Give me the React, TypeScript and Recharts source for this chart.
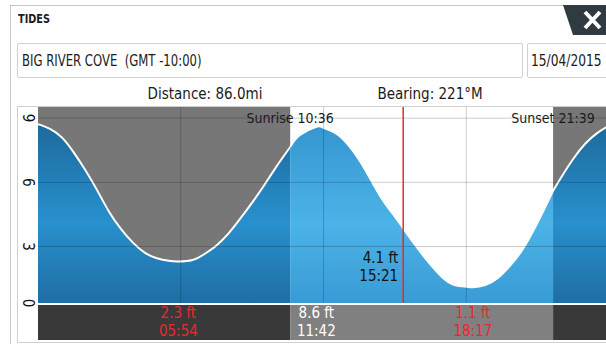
import {
  Area,
  ComposedChart,
  ReferenceArea,
  ReferenceDot,
  ReferenceLine,
  XAxis,
  YAxis,
} from 'recharts'

// tide height (ft), hour of day
const HOURS = [
  0, 0.5, 1, 1.5, 2, 2.5, 3, 3.5, 4, 4.5, 5, 5.5, 5.9, 6.5, 7, 7.5, 8, 8.5, 9, 9.5, 10, 10.6, 11, 11.7,
  12, 12.5, 13, 13.5, 14, 14.5, 15, 15.35, 16, 16.5, 17, 17.5, 18, 18.28, 18.8, 19.3, 19.8, 20.3, 20.8,
  21.3, 21.65, 22, 22.5, 23, 23.5, 24,
]
const HEIGHTS = [
  8.72, 8.5, 8.1, 7.4, 6.55, 5.6, 4.6, 3.8, 3.17, 2.7, 2.45, 2.33, 2.3, 2.37, 2.65, 3.05, 3.6, 4.3, 5.05, 5.85, 6.7, 7.65, 8.2, 8.6,
  8.55, 8.3, 7.8, 7.05, 6.1, 5.15, 4.4, 3.85, 2.85, 2.15, 1.55, 1.2, 1.12, 1.1, 1.2, 1.5, 2.05, 2.75, 3.7,
  4.8, 5.6, 6.25, 7.1, 7.8, 8.3, 8.65,
]

const SUNRISE = 10.6
const SUNSET = 21.65
const SUN_LABELS = ['Sunrise 10:36', 'Sunset 21:39']

const EXTREME_HOURS = [5.9, 11.7, 18.28]
const EXTREME_HEIGHTS = ['2.3 ft', '8.6 ft', '1.1 ft']
const EXTREME_TIMES = ['05:54', '11:42', '18:17']
const EXTREME_LOW = [true, false, true]

const NOW_HOUR = 15.35
const NOW_HEIGHT = 4.1
const NOW_LABEL = ['4.1 ft', '15:21']

const Y_TICKS = [0.36, 3, 6, 9]
const Y_MIN = -1.37
const Y_BASE = 0.36
const Y_MAX = 9.52

const FONT = '"Liberation Sans Narrow", "DejaVu Sans Condensed", "DejaVu Sans", sans-serif'
const RED = '#e52a2f'

const rows = HOURS.map((t, i) => ({
  t,
  night: t <= SUNRISE || t >= SUNSET ? HEIGHTS[i] : null,
  day: t >= SUNRISE && t <= SUNSET ? HEIGHTS[i] : null,
}))

const grid = 'rgba(0,0,0,0.2)'

function YTick({ y, payload }: any) {
  return (
    <text
      transform={`translate(10,${y}) rotate(90)`}
      textAnchor="middle"
      dominantBaseline="central"
      fontSize={15}
      fontFamily={FONT}
      fill="#111"
    >
      {Math.round(payload.value)}
    </text>
  )
}

const narrow = (scale: number): React.CSSProperties => ({
  display: 'inline-block',
  transform: `scaleX(${scale})`,
  transformOrigin: 'left center',
  whiteSpace: 'nowrap',
})

export default function App() {
  return (
    <div
      style={{
        position: 'fixed',
        left: 0,
        top: 0,
        width: 606,
        height: 344,
        background: '#fff',
        overflow: 'hidden',
        fontFamily: FONT,
        color: '#1b1b1b',
      }}
    >
      <div style={{ position: 'absolute', left: 10, top: 5, width: 700, height: 400, borderLeft: '1px solid #c6c6c6', borderTop: '1px solid #c6c6c6' }} />
      <div style={{ position: 'absolute', left: 18, top: 12, fontSize: 12, fontWeight: 'bold' }}>
        <span style={narrow(0.9)}>TIDES</span>
      </div>
      <svg width={606} height={40} style={{ position: 'absolute', left: 0, top: 0 }}>
        <polygon points="563,5 606,5 606,35 573,35" fill="#2f3a41" />
        <line x1={585} y1={12} x2={600} y2={28} stroke="#fff" strokeWidth={4} />
        <line x1={600} y1={12} x2={585} y2={28} stroke="#fff" strokeWidth={4} />
      </svg>
      <div
        style={{
          position: 'absolute', left: 17, top: 43, width: 500, height: 33,
          border: '1px solid #d0d0d0', borderRadius: 2, fontSize: 16, lineHeight: '33px', paddingLeft: 4,
        }}
      >
        <span style={narrow(0.81)}>BIG RIVER COVE&nbsp;&nbsp;(GMT -10:00)</span>
      </div>
      <div
        style={{
          position: 'absolute', left: 527, top: 43, width: 100, height: 33,
          border: '1px solid #d0d0d0', borderRadius: 2, fontSize: 16, lineHeight: '33px', paddingLeft: 3,
        }}
      >
        <span style={narrow(0.85)}>15/04/2015</span>
      </div>
      <div style={{ position: 'absolute', left: 105, width: 200, top: 85, textAlign: 'center', fontSize: 15 }}>Distance: 86.0mi</div>
      <div style={{ position: 'absolute', left: 330, width: 200, top: 85, textAlign: 'center', fontSize: 15 }}>Bearing: 221°M</div>
      <div style={{ position: 'absolute', left: 17, top: 106, width: 620, height: 235, border: '1px solid #d0d0d0' }} />
      <div style={{ position: 'absolute', left: 18, top: 107 }}>
        <ComposedChart width={591} height={233} data={rows} margin={{ top: 0, right: 0, bottom: 0, left: 0 }}>
          <defs>
            <linearGradient id="nightFill" x1="0" y1="0" x2="0" y2="1">
              <stop offset="0%" stopColor="#1d6a9c" />
              <stop offset="55%" stopColor="#2890cd" />
              <stop offset="100%" stopColor="#1f6ea4" />
            </linearGradient>
            <linearGradient id="dayFill" x1="0" y1="0" x2="0" y2="1">
              <stop offset="0%" stopColor="#3696d0" />
              <stop offset="55%" stopColor="#4bb3e7" />
              <stop offset="100%" stopColor="#3a9bd4" />
            </linearGradient>
          </defs>
          <XAxis type="number" dataKey="t" domain={[0, 24]} hide />
          <YAxis
            type="number"
            domain={[Y_MIN, Y_MAX]}
            ticks={Y_TICKS}
            width={20}
            axisLine={false}
            tickLine={false}
            tick={<YTick />}
            allowDataOverflow
          />
          <ReferenceArea x1={0} x2={SUNRISE} y1={Y_BASE} y2={Y_MAX} fill="#777777" fillOpacity={1} stroke="none" />
          <ReferenceArea x1={SUNSET} x2={24} y1={Y_BASE} y2={Y_MAX} fill="#777777" fillOpacity={1} stroke="none" />
          <Area
            type="natural"
            dataKey="night"
            baseValue={Y_BASE}
            fill="url(#nightFill)"
            fillOpacity={1}
            stroke="#ffffff"
            strokeWidth={2}
            isAnimationActive={false}
            activeDot={false}
          />
          <Area
            type="natural"
            dataKey="day"
            baseValue={Y_BASE}
            fill="url(#dayFill)"
            fillOpacity={1}
            stroke="#ffffff"
            strokeWidth={2}
            isAnimationActive={false}
            activeDot={false}
          />
          {[3, 6, 9].map((v) => (
            <ReferenceLine key={`h${v}`} y={v} stroke={grid} />
          ))}
          {[6, 12, 18].map((v) => (
            <ReferenceLine
              key={`v${v}`}
              segment={[{ x: v, y: Y_BASE }, { x: v, y: Y_MAX }]}
              stroke={grid}
            />
          ))}
          <ReferenceLine segment={[{ x: NOW_HOUR, y: Y_BASE }, { x: NOW_HOUR, y: Y_MAX }]} stroke={RED} strokeWidth={1.5} />
          <ReferenceArea x1={0} x2={SUNRISE} y1={Y_MIN} y2={0.27} fill="#393939" fillOpacity={1} stroke="none" />
          <ReferenceArea x1={SUNRISE} x2={SUNSET} y1={Y_MIN} y2={0.27} fill="#808080" fillOpacity={1} stroke="none" />
          <ReferenceArea x1={SUNSET} x2={24} y1={Y_MIN} y2={0.27} fill="#393939" fillOpacity={1} stroke="none" />
          {[SUNRISE, SUNSET].map((t, i) => (
            <ReferenceDot
              key={`s${i}`}
              x={t}
              y={9}
              r={0}
              shape={(p: any) => (
                <text x={p.cx} y={p.cy} textAnchor="middle" dominantBaseline="central" fontSize={14} fontFamily={FONT} fill="#1b1b1b">
                  {SUN_LABELS[i]}
                </text>
              )}
            />
          ))}
          {EXTREME_HOURS.map((t, i) => (
            <ReferenceDot
              key={`e${i}`}
              x={t}
              y={-0.55}
              r={0}
              shape={(p: any) => (
                <g fontSize={15} fontFamily={FONT} fill={EXTREME_LOW[i] ? RED : '#ffffff'} textAnchor="middle">
                  <text x={p.cx} y={p.cy - 9} dominantBaseline="central">{EXTREME_HEIGHTS[i]}</text>
                  <text x={p.cx} y={p.cy + 9} dominantBaseline="central">{EXTREME_TIMES[i]}</text>
                </g>
              )}
            />
          ))}
          <ReferenceDot
            x={NOW_HOUR}
            y={NOW_HEIGHT}
            r={0}
            shape={(p: any) => (
              <g fontSize={15} fontFamily={FONT} fill="#111" textAnchor="end">
                <text x={p.cx - 5} y={p.cy + 35} dominantBaseline="central">{NOW_LABEL[0]}</text>
                <text x={p.cx - 5} y={p.cy + 53} dominantBaseline="central">{NOW_LABEL[1]}</text>
              </g>
            )}
          />
        </ComposedChart>
      </div>
    </div>
  )
}
